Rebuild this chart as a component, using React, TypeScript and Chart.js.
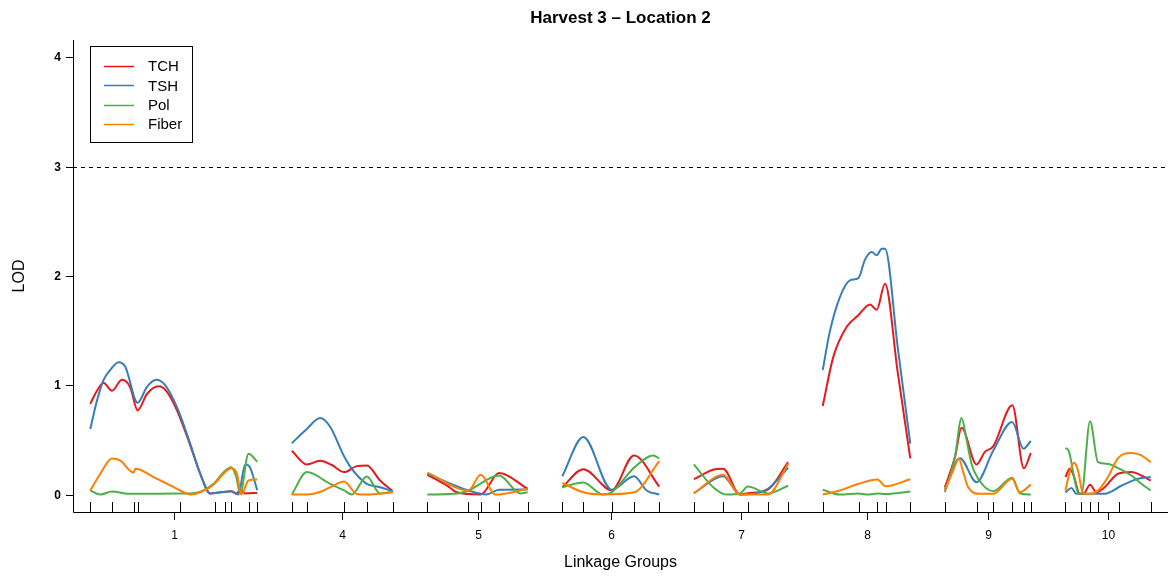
import React, { useEffect, useRef } from "react";
import { Chart, registerables } from "chart.js";
Chart.register(...registerables);

// Linkage groups, lengths (cM) and marker positions (cM within group)
const GROUPS = ["1", "4", "5", "6", "7", "8", "9", "10"];
const GROUP_LENGTHS = [167, 101, 100.4, 97, 94.3, 87.6, 86, 85.3];
const GAP = 34.6;
const MARKERS: number[][] = [
  [0, 21.7, 43.3, 47.3, 89.3, 124.3, 134.3, 141, 158.7, 167],
  [0, 15, 52.3, 75, 101],
  [0, 41, 53.4, 71.7, 100.4],
  [0, 21, 49.4, 71.7, 97],
  [0, 29.3, 54, 74, 94.3],
  [0, 36, 54.6, 63, 87.6],
  [0, 31.7, 48.3, 67.3, 78.7, 86],
  [0, 15.3, 24.6, 32.6, 53.3, 85.3],
];

const Y_TICKS = [0, 1, 2, 3, 4];
const THRESHOLD = 3;
const TRAITS = ["TCH", "TSH", "Pol", "Fiber"];
const COLORS = ["#E41A1C", "#377EB8", "#4DAF4A", "#FF7F00"];

// LOD profiles: per group, [position cM, LOD]
const TCH: number[][][] = [
  [[0, 0.83], [6.7, 0.95], [13.3, 1.02], [21.7, 0.95], [31.7, 1.05], [40, 0.98], [47.3, 0.77], [56.7, 0.92], [68.3, 0.99], [76.7, 0.94], [86.7, 0.77], [100, 0.45], [110, 0.19], [120, 0.01], [130, 0.02], [141, 0.03], [146, 0.01], [150, 0.04], [155, 0.01], [167, 0.015]],
  [[0, 0.4], [15, 0.275], [28.3, 0.31], [40, 0.27], [52.3, 0.205], [65, 0.26], [75, 0.266], [88.3, 0.128], [101, 0.03]],
  [[0, 0.18], [20, 0.08], [29.4, 0.02], [53.4, 0.0], [71.7, 0.196], [100.4, 0.052]],
  [[0, 0.067], [21, 0.232], [49.4, 0.04], [71.7, 0.358], [97, 0.073]],
  [[0, 0.14], [19.3, 0.226], [29.3, 0.235], [46, 0.0], [54, 0.012], [74, 0.045], [94.3, 0.296]],
  [[0, 0.81], [10.6, 1.26], [24, 1.535], [35.6, 1.64], [47.3, 1.74], [54, 1.69], [62.3, 1.93], [75, 1.12], [87.6, 0.33]],
  [[0, 0.067], [10, 0.34], [16.7, 0.61], [31.7, 0.275], [40, 0.39], [48.3, 0.44], [67.5, 0.817], [79, 0.24], [86, 0.38]],
  [[0, 0.16], [4.3, 0.235], [8, 0.18], [14.3, 0.006], [18, 0.006], [24.6, 0.09], [31, 0.02], [39.3, 0.067], [52.6, 0.19], [66, 0.205], [76, 0.174], [85.3, 0.128]],
];
const TSH: number[][][] = [
  [[0, 0.6], [6.7, 0.86], [13.3, 1.05], [20, 1.14], [28.3, 1.21], [35, 1.17], [47.3, 0.84], [56.7, 0.985], [66, 1.05], [75, 1.0], [86.7, 0.8], [100, 0.465], [110, 0.19], [120, 0.01], [130, 0.02], [141, 0.03], [148, 0.0], [155, 0.275], [159, 0.26], [167, 0.04]],
  [[0, 0.47], [15, 0.6], [28.3, 0.7], [38.3, 0.62], [52.3, 0.35], [60, 0.235], [75, 0.098], [88.3, 0.067], [101, 0.03]],
  [[0, 0.19], [41, 0.037], [59, 0.0], [71.7, 0.043], [100.4, 0.045]],
  [[0, 0.168], [21, 0.526], [49.4, 0.043], [71.7, 0.168], [84.4, 0.037], [97, 0.0]],
  [[0, 0.012], [29.3, 0.168], [46, 0.0], [74, 0.052], [94.3, 0.245]],
  [[0, 1.14], [7.3, 1.5], [17.3, 1.81], [27.3, 1.96], [35.6, 1.98], [42.3, 2.15], [49, 2.22], [54, 2.19], [59, 2.25], [62.3, 2.25], [75, 1.35], [87.6, 0.465]],
  [[0, 0.05], [15, 0.333], [31.7, 0.113], [48.3, 0.4], [67.3, 0.663], [78.7, 0.42], [86, 0.49]],
  [[0, 0.02], [6, 0.06], [11, 0.006], [39.3, 0.006], [56, 0.08], [72.6, 0.144], [85.3, 0.16]],
];
const POL: number[][][] = [
  [[0, 0.037], [10, 0.0], [21.7, 0.028], [40, 0.006], [90, 0.01], [103, 0.012], [123.3, 0.098], [133.3, 0.205], [141, 0.25], [146, 0.16], [150, 0.006], [158.3, 0.373], [167, 0.3]],
  [[0, 0.0], [15, 0.205], [38.3, 0.098], [52.3, 0.037], [60, 0.0], [75, 0.165], [88.3, 0.01], [101, 0.025]],
  [[0, 0.0], [30, 0.01], [41, 0.037], [71.7, 0.174], [93, 0.01], [100.4, 0.02]],
  [[0, 0.067], [21, 0.11], [40.7, 0.0], [49.4, 0.02], [71.7, 0.245], [91, 0.358], [97, 0.33]],
  [[0, 0.275], [19.3, 0.067], [32.7, 0.0], [46, 0.01], [54, 0.073], [74, 0.01], [94.3, 0.08]],
  [[0, 0.043], [17.3, 0.0], [36, 0.01], [45, 0.0], [54.6, 0.01], [63, 0.005], [87.6, 0.028]],
  [[0, 0.02], [10, 0.34], [16.7, 0.7], [21.7, 0.5], [26.7, 0.28], [33.3, 0.144], [48.3, 0.03], [67.3, 0.153], [75, 0.012], [86, 0.0]],
  [[0, 0.425], [3.3, 0.4], [9.3, 0.128], [13.3, 0.006], [16, 0.006], [24.6, 0.67], [32.6, 0.296], [42.6, 0.28], [54.3, 0.235], [66, 0.174], [76, 0.098], [85.3, 0.037]],
];
const FIBER: number[][][] = [
  [[0, 0.037], [10, 0.19], [21.7, 0.33], [30, 0.31], [43.3, 0.2], [45, 0.235], [50, 0.227], [63.3, 0.16], [76.7, 0.1], [90, 0.037], [100, 0.0], [110, 0.02], [123.3, 0.09], [133.3, 0.19], [141, 0.24], [146.7, 0.19], [151, 0.0], [158.3, 0.128], [167, 0.137]],
  [[0, 0.0], [15, 0.0], [30, 0.03], [38.3, 0.067], [52.3, 0.12], [65, 0.005], [75, 0.0], [101, 0.02]],
  [[0, 0.2], [41, 0.037], [53.4, 0.18], [68, 0.0], [100.4, 0.052]],
  [[0, 0.107], [21, 0.02], [40, 0.0], [71.7, 0.02], [97, 0.306]],
  [[0, 0.012], [29.3, 0.18], [46, 0.0], [74, 0.0], [94.3, 0.28]],
  [[0, 0.0], [17.3, 0.037], [36, 0.098], [54.6, 0.137], [63, 0.076], [87.6, 0.14]],
  [[0, 0.04], [8.3, 0.22], [14, 0.327], [18.3, 0.205], [23.3, 0.067], [35, 0.006], [48.3, 0.006], [67.3, 0.144], [75, 0.02], [86, 0.09]],
  [[0, 0.037], [4.3, 0.205], [8.6, 0.29], [12.6, 0.22], [17.6, 0.006], [24.6, 0.006], [32.6, 0.037], [42.6, 0.16], [52.6, 0.333], [66, 0.38], [76, 0.358], [85.3, 0.296]],
];
const SERIES = [TCH, TSH, POL, FIBER];

const TITLE = "Harvest 3 \u2013 Location 2";
const X_TITLE = "Linkage Groups";
const Y_TITLE = "LOD";

// global offsets of each group
const OFFSETS: number[] = [];
{
  let acc = GAP / 2;
  GROUP_LENGTHS.forEach((len) => {
    OFFSETS.push(acc);
    acc += len + GAP;
  });
}
const X_MAX = OFFSETS[OFFSETS.length - 1] + GROUP_LENGTHS[GROUP_LENGTHS.length - 1] + GAP / 2;

function buildData(series: number[][][]) {
  const out: { x: number; y: number | null }[] = [];
  series.forEach((pts, gi) => {
    pts.forEach(([p, v]) => out.push({ x: OFFSETS[gi] + p, y: v }));
    if (gi < series.length - 1) out.push({ x: OFFSETS[gi] + GROUP_LENGTHS[gi] + GAP / 2, y: null });
  });
  return out;
}

const FONT = "'Liberation Sans', Arial, Helvetica, sans-serif";

const decor = {
  id: "decor",
  afterDraw(chart: any) {
    const { ctx, chartArea, scales } = chart;
    const xs = scales.x;
    const ys = scales.y;
    const L = chartArea.left, R = chartArea.right, T = chartArea.top, B = chartArea.bottom;
    ctx.save();
    ctx.strokeStyle = "#000";
    ctx.fillStyle = "#000";
    ctx.lineWidth = 1;
    // threshold
    ctx.setLineDash([4, 4]);
    const ty = Math.round(ys.getPixelForValue(THRESHOLD)) + 0.5;
    ctx.beginPath();
    ctx.moveTo(L, ty);
    ctx.lineTo(R, ty);
    ctx.stroke();
    ctx.setLineDash([]);
    // L-shaped box
    ctx.beginPath();
    ctx.moveTo(Math.round(L) + 0.5, T);
    ctx.lineTo(Math.round(L) + 0.5, Math.round(B) + 0.5);
    ctx.lineTo(R, Math.round(B) + 0.5);
    ctx.stroke();
    // y ticks
    ctx.font = `bold 12px ${FONT}`;
    ctx.textAlign = "right";
    ctx.textBaseline = "middle";
    Y_TICKS.forEach((t) => {
      const y = Math.round(ys.getPixelForValue(t)) + 0.5;
      ctx.beginPath();
      ctx.moveTo(L - 7, y);
      ctx.lineTo(L, y);
      ctx.stroke();
      ctx.fillText(String(t), L - 12, y);
    });
    // marker ticks and group labels
    ctx.font = `12px ${FONT}`;
    ctx.textAlign = "center";
    ctx.textBaseline = "middle";
    GROUPS.forEach((g, gi) => {
      MARKERS[gi].forEach((m) => {
        const x = Math.round(xs.getPixelForValue(OFFSETS[gi] + m)) + 0.5;
        ctx.beginPath();
        ctx.moveTo(x, B - 10);
        ctx.lineTo(x, B);
        ctx.stroke();
      });
      const mx = Math.round(xs.getPixelForValue(OFFSETS[gi] + GROUP_LENGTHS[gi] / 2)) + 0.5;
      ctx.beginPath();
      ctx.moveTo(mx, B);
      ctx.lineTo(mx, B + 8);
      ctx.stroke();
      ctx.fillText(g, mx, B + 24);
    });
    // titles
    ctx.font = `bold 17px ${FONT}`;
    ctx.fillText(TITLE, (L + R) / 2, 18);
    ctx.font = `16px ${FONT}`;
    ctx.fillText(X_TITLE, (L + R) / 2, 563);
    ctx.save();
    ctx.translate(20, (T + B) / 2);
    ctx.rotate(-Math.PI / 2);
    ctx.fillText(Y_TITLE, 0, 0);
    ctx.restore();
    // legend
    const bx = 90.5, by = 46.5, bw = 102, bh = 96;
    ctx.fillStyle = "#fff";
    ctx.fillRect(bx, by, bw, bh);
    ctx.strokeStyle = "#000";
    ctx.strokeRect(bx, by, bw, bh);
    ctx.font = `15px ${FONT}`;
    ctx.textAlign = "left";
    TRAITS.forEach((t, i) => {
      const y = 66 + i * 19.4;
      ctx.strokeStyle = COLORS[i];
      ctx.lineWidth = 1.5;
      ctx.beginPath();
      ctx.moveTo(104, Math.round(y) + 0.5);
      ctx.lineTo(134, Math.round(y) + 0.5);
      ctx.stroke();
      ctx.fillStyle = "#000";
      ctx.fillText(t, 148, y + 1);
    });
    ctx.restore();
  },
};

export default function App() {
  const ref = useRef<HTMLCanvasElement>(null);
  useEffect(() => {
    if (!ref.current) return;
    const chart = new Chart(ref.current, {
      type: "line",
      data: {
        datasets: SERIES.map((s, i) => ({
          label: TRAITS[i],
          data: buildData(s),
          borderColor: COLORS[i],
          backgroundColor: COLORS[i],
          borderWidth: 2,
          pointRadius: 0,
          cubicInterpolationMode: "monotone" as const,
          spanGaps: false,
          order: SERIES.length - i,
        })),
      },
      options: {
        animation: false,
        responsive: false,
        devicePixelRatio: 1,
        parsing: true,
        layout: { padding: { left: 73, right: 0, top: 40, bottom: 64 } },
        plugins: { legend: { display: false }, tooltip: { enabled: false }, title: { display: false } },
        scales: {
          x: { type: "linear", min: 0, max: X_MAX, display: false },
          y: { type: "linear", min: -0.16, max: 4.16, display: false },
        },
      },
      plugins: [decor],
    });
    return () => chart.destroy();
  }, []);
  return (
    <div style={{ position: "absolute", left: 0, top: 0, width: 1168, height: 576, background: "#fff" }}>
      <canvas ref={ref} width={1168} height={576} style={{ display: "block" }} />
    </div>
  );
}
